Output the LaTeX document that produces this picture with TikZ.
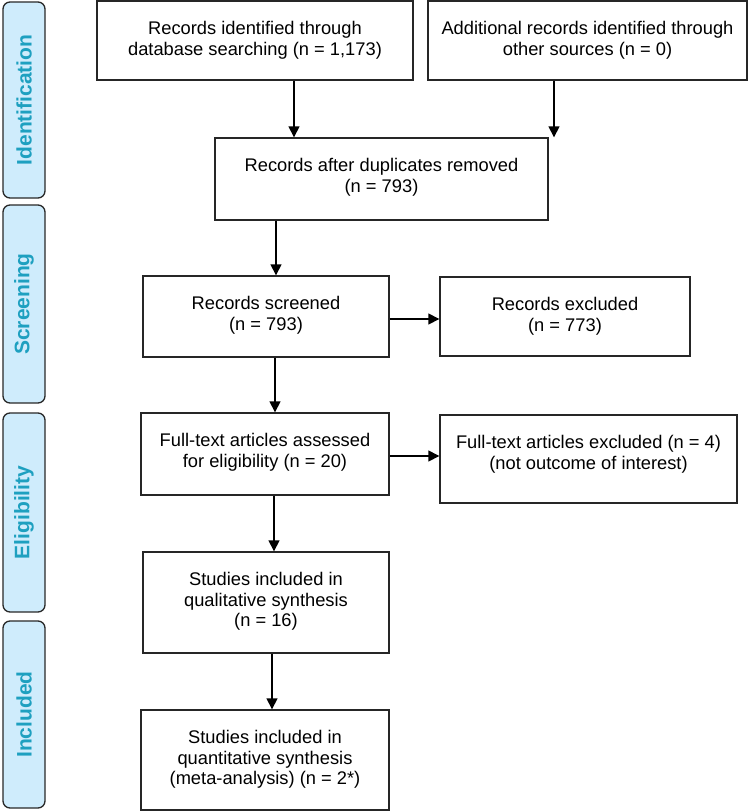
\documentclass[tikz,border=0pt]{standalone}
\usepackage{fontspec}
\setmainfont{Liberation Sans}
\usetikzlibrary{arrows.meta,calc}
\definecolor{tabfill}{RGB}{207,236,252}
\definecolor{tabtext}{RGB}{30,160,192}
\definecolor{tabline}{RGB}{40,40,40}
\begin{document}
\begin{tikzpicture}[x=1pt,y=-1pt,
  box/.style={draw=black!85,line width=1.4pt,rectangle,inner sep=0pt},
  txt/.style={anchor=north,inner sep=0pt,align=center,font=\fontsize{18.3}{20.5}\selectfont},
  tab/.style={draw=tabline,line width=1.3pt,fill=tabfill,rounded corners=7pt,minimum width=42pt,inner sep=0pt},
  tabtxt/.style={rotate=90,text=tabtext,font=\fontsize{21}{23}\selectfont\bfseries,inner sep=0pt},
  arr/.style={draw=black,line width=1.5pt,-{Triangle[length=11pt,width=11pt]}}]
\useasboundingbox (0,0) rectangle (751,812);
% side tabs
\node[tab,minimum height=196pt] (tid) at (24,100) {};
\node[tabtxt] (tidt) at (tid.center) {Identification};
\node[tab,minimum height=198pt] (tsc) at (24,304) {};
\node[tabtxt] (tsct) at (tsc.center) {Screening};
\node[tab,minimum height=199pt] (tel) at (24,512.5) {};
\node[tabtxt] (telt) at (tel.center) {Eligibility};
\node[tab,minimum height=187pt] (tin) at (24,714.5) {};
\node[tabtxt] (tint) at (tin.center) {Included};
% boxes
\node[box,minimum width=316pt,minimum height=79pt] (b1) at (255,40.5) {};
\node[txt] (b1t) at ([yshift=-20pt]b1.north) {\strut Records identified through\\database searching (n = 1,173)};
\node[box,minimum width=319pt,minimum height=79pt] (b2) at (587.5,40.5) {};
\node[txt] (b2t) at ([yshift=-20pt]b2.north) {\strut Additional records identified through\\other sources (n = 0)};
\node[box,minimum width=333pt,minimum height=82pt] (dup) at (381.5,179) {};
\node[txt] (dupt) at ([yshift=-20pt]dup.north) {\strut Records after duplicates removed\\(n = 793)};
\node[box,minimum width=246pt,minimum height=81pt] (scr) at (266,316.5) {};
\node[txt] (scrt) at ([yshift=-20pt]scr.north) {\strut Records screened\\(n = 793)};
\node[box,minimum width=250pt,minimum height=79pt] (exc) at (565,316.5) {};
\node[txt] (exct) at ([yshift=-20pt]exc.north) {\strut Records excluded\\(n = 773)};
\node[box,minimum width=248pt,minimum height=82pt] (ft) at (265,454) {};
\node[txt] (ftt) at ([yshift=-20pt]ft.north) {\strut Full-text articles assessed\\for eligibility (n = 20)};
\node[box,minimum width=297pt,minimum height=88pt] (ftx) at (588.5,459) {};
\node[txt] (ftxt) at ([yshift=-20pt]ftx.north) {\strut Full-text articles excluded (n = 4)\\(not outcome of interest)};
\node[box,minimum width=246pt,minimum height=101pt] (ql) at (266,602.5) {};
\node[txt] (qlt) at ([yshift=-20pt]ql.north) {\strut Studies included in\\qualitative synthesis\\(n = 16)};
\node[box,minimum width=248pt,minimum height=100pt] (qn) at (265,760) {};
\node[txt] (qnt) at ([yshift=-20pt]qn.north) {\strut Studies included in\\quantitative synthesis\\(meta-analysis) (n = 2*)};
% arrows
\draw[arr] ([xshift=39pt]b1.south) -- ([xshift=39pt]b1.south |- dup.north);
\draw[arr] ([xshift=-33.5pt]b2.south) -- ([xshift=-33.5pt]b2.south |- dup.north);
\draw[arr] ([xshift=-105.5pt]dup.south) -- ([xshift=-105.5pt]dup.south |- scr.north);
\draw[arr] ([yshift=-2.5pt]scr.east) -- ([yshift=-2.5pt]scr.east -| exc.west);
\draw[arr] ([xshift=9pt]scr.south) -- ([xshift=9pt]scr.south |- ft.north);
\draw[arr] ([yshift=-2pt]ft.east) -- ([yshift=-2pt]ft.east -| ftx.west);
\draw[arr] ([xshift=9pt]ft.south) -- ([xshift=9pt]ft.south |- ql.north);
\draw[arr] ([xshift=6pt]ql.south) -- ([xshift=6pt]ql.south |- qn.north);
\end{tikzpicture}
\end{document}
